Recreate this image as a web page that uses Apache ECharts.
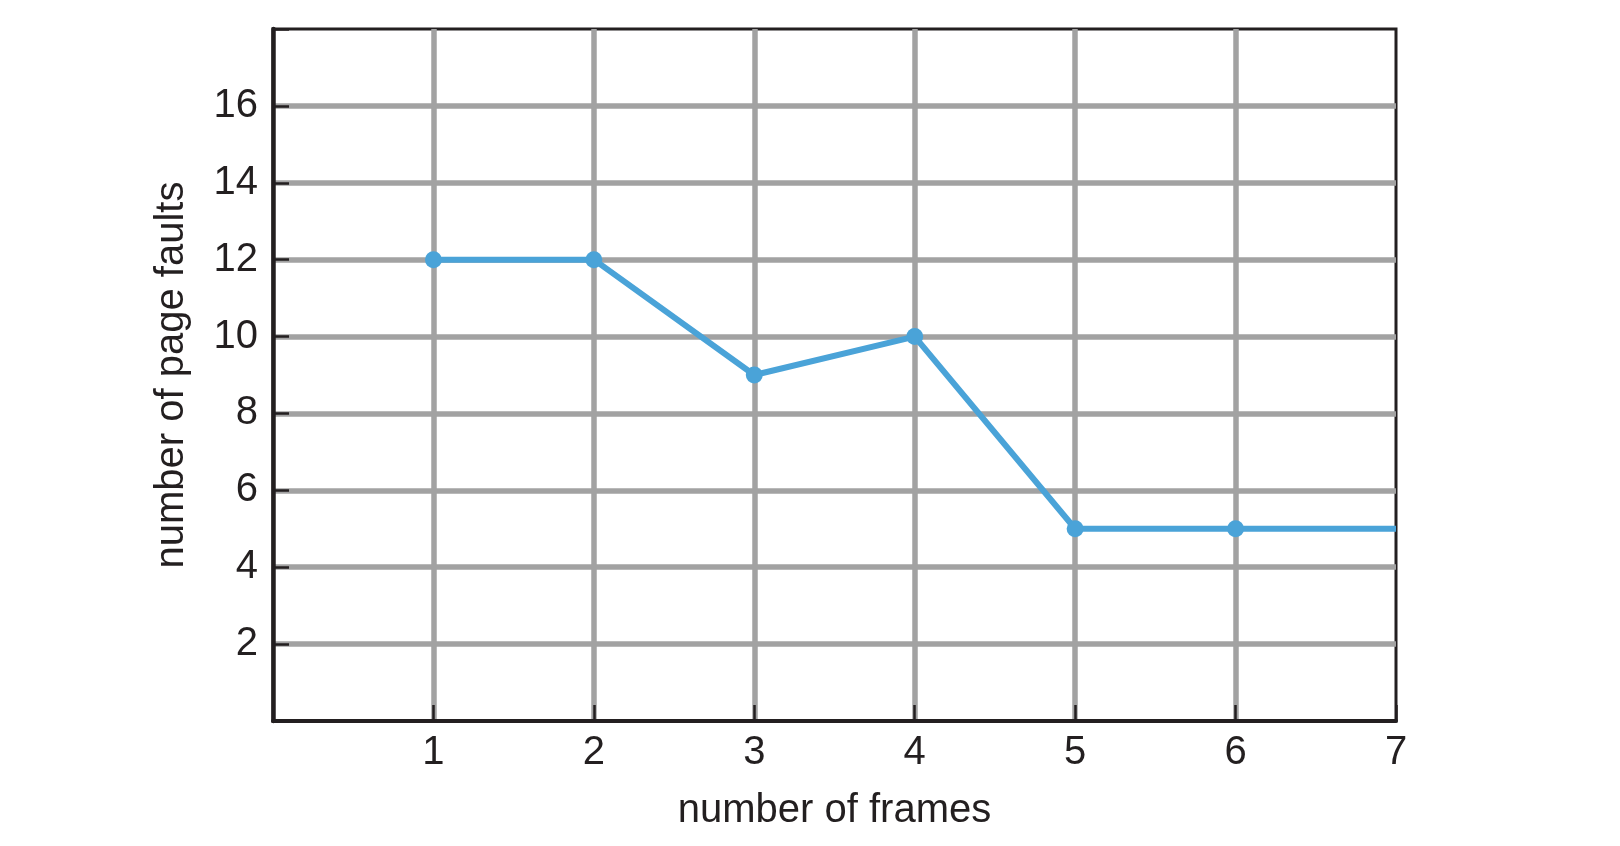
<!DOCTYPE html>
<html>
<head>
<meta charset="utf-8">
<script src="https://cdn.jsdelivr.net/npm/echarts@6/dist/echarts.min.js"></script>
<style>
html,body{margin:0;padding:0;background:#fff;}
#chart{width:1620px;height:846px;}
</style>
</head>
<body>
<div id="chart"></div>
<script>
const frames = [1, 2, 3, 4, 5, 6, 7];
const pageFaults = [12, 12, 9, 10, 5, 5, 5];
const markerShown = [true, true, true, true, true, true, false];
const xTicks = [1, 2, 3, 4, 5, 6, 7];
const yTicks = [2, 4, 6, 8, 10, 12, 14, 16];
const xTitle = 'number of frames';
const yTitle = 'number of page faults';

const ink = '#231f20';
const gridGrey = '#a2a2a2';
const lineBlue = '#4aa3d8';
const font = '"Liberation Sans", Arial, Helvetica, sans-serif';

const data = frames.map((f, i) => markerShown[i]
  ? { value: [f, pageFaults[i]] }
  : { value: [f, pageFaults[i]], symbol: 'none' });

const chart = echarts.init(document.getElementById('chart'), null, { renderer: 'canvas' });
chart.setOption({
  animation: false,
  backgroundColor: '#fff',
  grid: {
    left: 273, right: 224, top: 29, bottom: 125,
    show: true, borderColor: ink, borderWidth: 3, backgroundColor: 'transparent'
  },
  xAxis: {
    type: 'value', min: 0, max: 7, interval: 1,
    name: xTitle, nameLocation: 'middle', nameGap: 70,
    nameTextStyle: { fontFamily: font, fontSize: 40, color: ink },
    axisLine: { show: true, lineStyle: { color: ink, width: 4 } },
    axisTick: { show: true, inside: true, length: 16, lineStyle: { color: ink, width: 2.5 } },
    axisLabel: {
      margin: 12, fontFamily: font, fontSize: 40, color: ink,
      formatter: v => xTicks.includes(v) ? String(v) : ''
    },
    splitLine: { show: true, showMinLine: false, showMaxLine: false, lineStyle: { color: gridGrey, width: 5.5 } }
  },
  yAxis: {
    type: 'value', min: 0, max: 18, interval: 2,
    name: yTitle, nameLocation: 'middle', nameGap: 81, nameRotate: 90,
    nameTextStyle: { fontFamily: font, fontSize: 40, color: ink },
    axisLine: { show: true, lineStyle: { color: ink, width: 4.5 } },
    axisTick: { show: true, inside: true, length: 16, lineStyle: { color: ink, width: 2.5 } },
    axisLabel: {
      margin: 15, fontFamily: font, fontSize: 40, color: ink,
      formatter: v => yTicks.includes(v) ? String(v) : ''
    },
    splitLine: { show: true, showMinLine: false, showMaxLine: false, lineStyle: { color: gridGrey, width: 5.5 } }
  },
  series: [{
    type: 'line',
    data: data,
    symbol: 'circle',
    symbolSize: 17,
    showAllSymbol: true,
    lineStyle: { color: lineBlue, width: 6 },
    itemStyle: { color: lineBlue, borderWidth: 0 },
    z: 5
  }]
});
</script>
</body>
</html>
